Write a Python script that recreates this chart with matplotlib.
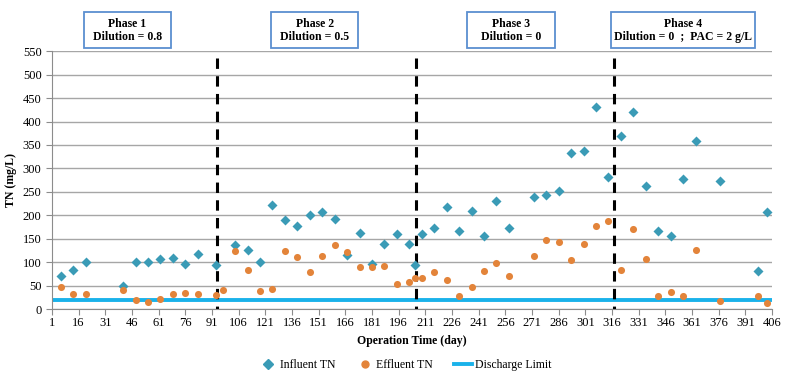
import numpy as np
import matplotlib.pyplot as plt
from matplotlib.lines import Line2D
from matplotlib.patches import Rectangle

plt.rcParams['font.family'] = ['Liberation Serif', 'DejaVu Serif']

# Influent TN (mg/L) by operation day
inf_day = [6, 13, 20, 41, 48, 55, 62, 69, 76, 83, 93, 104, 111, 118, 125, 132, 139,
           146, 153, 160, 167, 174, 181, 188, 195, 202, 205, 209, 216, 223, 230, 237,
           244, 251, 258, 272, 279, 286, 293, 300, 307, 314, 321, 328, 335, 342, 349,
           356, 363, 377, 398, 403]
inf_tn = [71, 83, 101, 50, 101, 101, 107, 109, 96, 117, 95, 136, 126, 100, 222, 190, 178,
          200, 207, 191, 115, 163, 96, 138, 160, 139, 95, 160, 173, 217, 167, 209,
          156, 230, 173, 240, 243, 252, 333, 338, 432, 281, 370, 421, 262, 166, 156,
          278, 358, 273, 82, 207]

# Effluent TN (mg/L)
eff_day = [6, 13, 20, 41, 48, 55, 62, 69, 76, 83, 93, 97, 104, 111, 118, 125, 132, 139,
           146, 153, 160, 167, 174, 181, 188, 195, 202, 205, 209, 216, 223, 230, 237,
           244, 251, 258, 272, 279, 286, 293, 300, 307, 314, 321, 328, 335, 342, 349,
           356, 363, 377, 398, 403]
eff_tn = [48, 33, 33, 40, 19, 15, 21, 32, 34, 32, 31, 41, 123, 83, 39, 42, 123, 112,
          79, 113, 136, 121, 89, 90, 91, 54, 58, 67, 67, 80, 63, 28, 48,
          82, 98, 70, 114, 147, 144, 104, 139, 178, 187, 83, 170, 107, 28, 36,
          28, 126, 18, 28, 13]

discharge_limit = 20
phase_breaks = [94, 206, 317]
phase_labels = ['Phase 1\nDilution = 0.8', 'Phase 2\nDilution = 0.5',
                'Phase 3\nDilution = 0', 'Phase 4\nDilution = 0  ;  PAC = 2 g/L']
# box centre and width in figure fraction
phase_box_x = [0.162, 0.400, 0.649, 0.868]
phase_box_w = [0.111, 0.111, 0.112, 0.183]

fig = plt.figure(figsize=(7.87, 3.82), dpi=100)
ax = fig.add_axes([0.066, 0.191, 0.915, 0.675])

ax.axhline(discharge_limit, color='#1ab2ea', lw=2.8, zorder=2)
ax.scatter(inf_day, inf_tn, marker='D', s=26, color='#3a9bb6', zorder=4, linewidths=0)
ax.scatter(eff_day, eff_tn, marker='o', s=26, color='#e3843a', zorder=4, linewidths=0)

# dashed phase separators, drawn top-down so the first dash sits at the top
for b in phase_breaks:
    ax.plot([b, b], [535, 0], color='black', lw=2.2, ls=(0, (3.4, 2.4)), zorder=3)

ax.set_xlim(1, 406)
ax.set_ylim(0, 550)
ax.set_xticks(np.arange(1, 407, 15))
ax.set_yticks(np.arange(0, 551, 50))
ax.yaxis.grid(True, color='#a6a6a6', lw=1)
ax.set_axisbelow(True)
for s in ['top', 'right']:
    ax.spines[s].set_visible(False)
for s in ['left', 'bottom']:
    ax.spines[s].set_color('#8c8c8c')
ax.tick_params(axis='both', colors='#8c8c8c', labelcolor='black', labelsize=9,
               length=4, direction='out')
ax.tick_params(axis='x', pad=2)

ax.set_xlabel('Operation Time (day)', fontsize=8.5, fontweight='bold', labelpad=4)
ax.set_ylabel('TN (mg/L)', fontsize=8.5, fontweight='bold', labelpad=4)

for x, w, lab in zip(phase_box_x, phase_box_w, phase_labels):
    fig.patches.append(Rectangle((x - w / 2, 0.874), w, 0.094, transform=fig.transFigure,
                                 fc='white', ec='#5b8fd0', lw=1.3))
    fig.text(x, 0.921, lab, ha='center', va='center', fontsize=8.5, fontweight='bold',
             linespacing=1.1)

handles = [Line2D([], [], marker='D', ls='none', color='#3a9bb6', ms=5),
           Line2D([], [], marker='o', ls='none', color='#e3843a', ms=5),
           Line2D([], [], color='#1ab2ea', lw=2.8)]
fig.legend(handles, ['Influent TN', 'Effluent TN', 'Discharge Limit'],
           loc='center', bbox_to_anchor=(0.515, 0.045), ncol=3, frameon=False,
           fontsize=8.5, handlelength=1.5, handletextpad=0.2, columnspacing=1.8)

fig.savefig('out.png', dpi=100)
